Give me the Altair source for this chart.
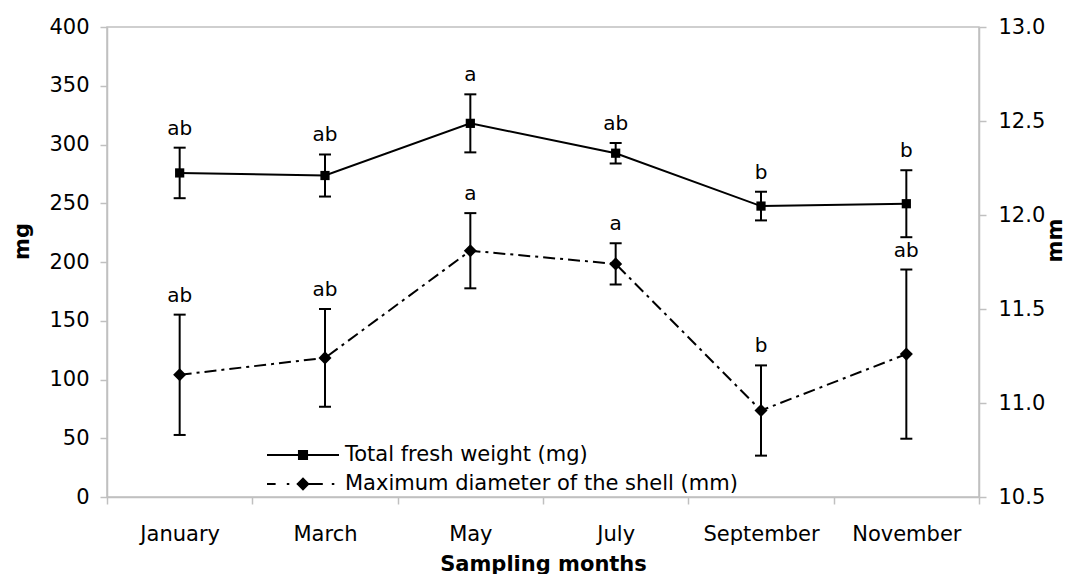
import altair as alt
import pandas as pd

# ---------------- data ----------------
months = ["January", "March", "May", "July", "September", "November"]

weight_mean = [275.8, 273.6, 318.0, 292.6, 247.6, 249.6]     # mg
weight_err = [21.5, 17.9, 24.7, 8.7, 12.2, 28.5]
weight_letters = ["ab", "ab", "a", "ab", "b", "b"]

diam_mean = [11.15, 11.24, 11.81, 11.74, 10.96, 11.26]       # mm
diam_err = [0.32, 0.26, 0.20, 0.11, 0.24, 0.45]
diam_letters = ["ab", "ab", "a", "a", "b", "ab"]

series_names = ["Total fresh weight (mg)", "Maximum diameter of the shell (mm)"]
mg_ticks = [0, 50, 100, 150, 200, 250, 300, 350, 400]
mm_ticks = [10.5, 11.0, 11.5, 12.0, 12.5, 13.0]

df = pd.DataFrame({
    "month": months,
    "w": weight_mean,
    "w_lo": [m - e for m, e in zip(weight_mean, weight_err)],
    "w_hi": [m + e for m, e in zip(weight_mean, weight_err)],
    "w_lab": weight_letters,
    "d": diam_mean,
    "d_lo": [m - e for m, e in zip(diam_mean, diam_err)],
    "d_hi": [m + e for m, e in zip(diam_mean, diam_err)],
    "d_lab": diam_letters,
})
legend_df = pd.DataFrame({"series": series_names})

FONT = "DejaVu Sans"
AXIS_GRAY = "#c0c0c0"

x_scale = alt.Scale(type="band", domain=months, paddingInner=0, paddingOuter=0)
w_scale = alt.Scale(domain=[mg_ticks[0], mg_ticks[-1]], nice=False, zero=False)
d_scale = alt.Scale(domain=[mm_ticks[0], mm_ticks[-1]], nice=False, zero=False)

x_axis = alt.Axis(
    title="Sampling months", labelAngle=0, tickBand="extent", tickSize=7,
    labelPadding=19, labelFontSize=21, titleFontSize=21, titleFontWeight="bold",
    titleY=67, titleBaseline="middle",
)
w_axis = alt.Axis(
    title="mg", orient="left", values=mg_ticks, tickSize=7, labelPadding=11,
    labelFontSize=21, labelBaseline="middle", titleFontSize=21, titleFontWeight="bold",
    titleAngle=-90, titleX=-85, titleY=214, titleAlign="center", titleBaseline="middle",
)
d_axis = alt.Axis(
    title="mm", orient="right", values=mm_ticks, format=".1f", tickSize=7, labelPadding=12,
    labelFontSize=21, labelBaseline="middle", titleFontSize=21, titleFontWeight="bold",
    titleAngle=-90, titleX=76, titleY=213, titleAlign="center", titleBaseline="middle",
)


def X():
    return alt.X("month:N", scale=x_scale, bandPosition=0.5, axis=x_axis, title="Sampling months")


def YW(field):
    return alt.Y(field, scale=w_scale, axis=w_axis, title="mg")


def YD(field):
    return alt.Y(field, scale=d_scale, axis=d_axis, title="mm")


base = alt.Chart(df)

# ---------------- total fresh weight (left axis) ----------------
w_line = base.mark_line(color="black", strokeWidth=2).encode(x=X(), y=YW("w:Q"))
w_rule = base.mark_rule(color="black", strokeWidth=2).encode(x=X(), y=YW("w_lo:Q"), y2="w_hi:Q")
w_cap_lo = base.mark_tick(color="black", thickness=2, size=12, opacity=1).encode(x=X(), y=YW("w_lo:Q"))
w_cap_hi = base.mark_tick(color="black", thickness=2, size=12, opacity=1).encode(x=X(), y=YW("w_hi:Q"))
w_pts = base.mark_point(shape="square", filled=True, color="black", size=85, opacity=1).encode(
    x=X(), y=YW("w:Q"))
w_txt = base.mark_text(dy=-19, fontSize=20, font=FONT, color="black", baseline="middle").encode(
    x=X(), y=YW("w_hi:Q"), text="w_lab:N")

# ---------------- legend: line + marker drawn as filled unit-square paths ----------------
path_w = ("M-1,-0.028L1,-0.028L1,0.028L-1,0.028Z"
          "M-0.14,-0.14L0.14,-0.14L0.14,0.14L-0.14,0.14Z")
path_d = ("M-1,-0.028L-0.76,-0.028L-0.76,0.028L-1,0.028Z"
          "M-0.45,-0.028L-0.38,-0.028L-0.38,0.028L-0.45,0.028Z"
          "M-0.17,-0.028L0.55,-0.028L0.55,0.028L-0.17,0.028Z"
          "M0.8,-0.028L0.87,-0.028L0.87,0.028L0.8,0.028Z"
          "M0,-0.185L0.185,0L0,0.185L-0.185,0Z")
legend_layer = alt.Chart(legend_df).transform_filter("false").mark_point(
    filled=True, color="black", size=5184, opacity=1
).encode(
    shape=alt.Shape(
        "series:N",
        scale=alt.Scale(domain=series_names, range=[path_w, path_d]),
        legend=alt.Legend(
            orient="none", legendX=160, legendY=418, title=None,
            labelFont=FONT, labelFontSize=21, labelColor="black", labelLimit=600,
            symbolSize=5184, symbolStrokeWidth=0, symbolFillColor="black",
            clipHeight=20, rowPadding=8, labelOffset=6, padding=0, symbolOffset=0,
        ),
    )
)

weight_layer = alt.layer(w_line, w_rule, w_cap_lo, w_cap_hi, w_pts, w_txt, legend_layer)

# ---------------- shell diameter (right axis) ----------------
d_line = base.mark_line(color="black", strokeWidth=2, strokeDash=[12, 5, 3, 5]).encode(
    x=X(), y=YD("d:Q"))
d_rule = base.mark_rule(color="black", strokeWidth=2).encode(x=X(), y=YD("d_lo:Q"), y2="d_hi:Q")
d_cap_lo = base.mark_tick(color="black", thickness=2, size=12, opacity=1).encode(x=X(), y=YD("d_lo:Q"))
d_cap_hi = base.mark_tick(color="black", thickness=2, size=12, opacity=1).encode(x=X(), y=YD("d_hi:Q"))
d_pts = base.mark_point(shape="diamond", filled=True, color="black", size=170, opacity=1).encode(
    x=X(), y=YD("d:Q"))
d_txt = base.mark_text(dy=-19, fontSize=20, font=FONT, color="black", baseline="middle").encode(
    x=X(), y=YD("d_hi:Q"), text="d_lab:N")

diam_layer = alt.layer(d_line, d_rule, d_cap_lo, d_cap_hi, d_pts, d_txt)

chart = alt.layer(weight_layer, diam_layer).resolve_scale(y="independent").properties(
    width=872, height=470,
    autosize=alt.AutoSizeParams(type="none"),
    padding={"left": 99, "top": 19, "right": 86, "bottom": 77},
).configure_view(
    stroke=AXIS_GRAY, strokeWidth=1.5
).configure_axis(
    grid=False, domainColor=AXIS_GRAY, tickColor=AXIS_GRAY, domainWidth=1.5, tickWidth=1.5,
    labelColor="black", titleColor="black", labelFont=FONT, titleFont=FONT,
)

chart.save("out.html", embed_options={"renderer": "svg", "actions": False})
